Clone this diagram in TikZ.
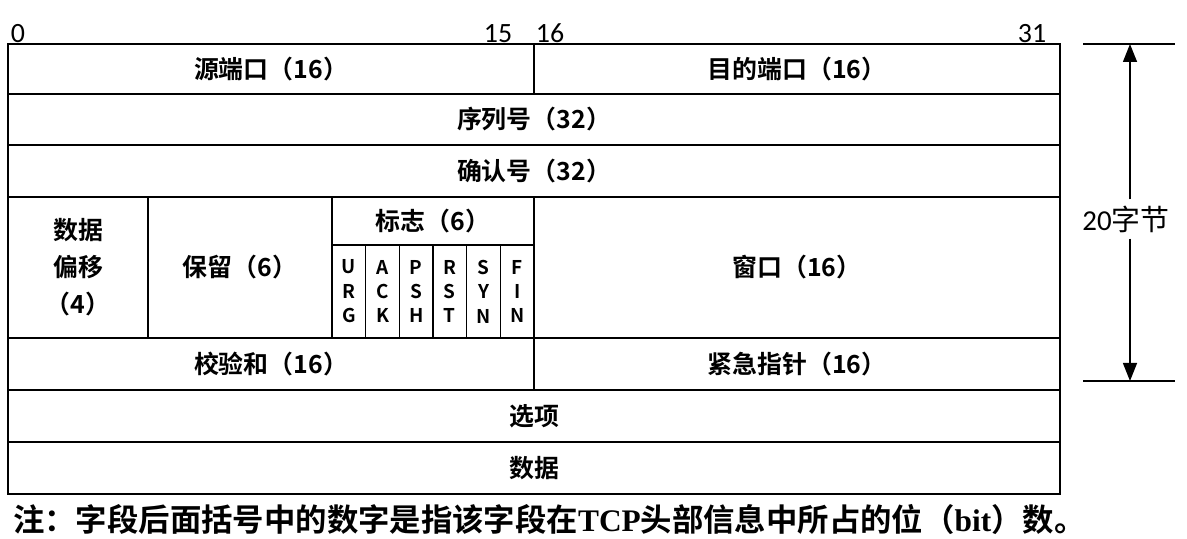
\documentclass[tikz,border=0pt]{standalone}
\usepackage{fontspec}
\setmainfont{Noto Sans CJK SC}[BoldFont={Noto Sans CJK SC Bold}]
\newfontfamily\numfont{Carlito}
\newfontfamily\notefont{Liberation Serif}
\usetikzlibrary{arrows.meta,fit}

\begin{document}
\begin{tikzpicture}[x=1bp,y=-1bp,
  cell/.style={draw, line width=1.4bp, inner sep=0pt},
  lbl/.style={align=center, inner sep=0pt, font=\fontsize{25}{37}\selectfont\bfseries},
  flaglbl/.style={lbl, font=\fontsize{19}{24.5}\selectfont\bfseries},
  bitno/.style={font=\numfont\fontsize{28}{28}\selectfont, anchor=base, inner sep=0pt},
  arr/.style={line width=1.4bp, -{Triangle[width=14bp,length=18bp]}}]
  \useasboundingbox (0,0) rectangle (1187,539);

  % bit numbers
  \node[bitno] (b0) at (18,43) {0};
  \node[bitno] (b15) at (498,43) {15};
  \node[bitno] (b16) at (550,43) {16};
  \node[bitno] (b31) at (1032,43) {31};

  % header fields
  \node[cell, fit={(8,44) (534,94)}] (src) {};
  \node[lbl] (src-l) at (src) {源端口（16）};
  \node[cell, fit={(534,44) (1060,94)}] (dst) {};
  \node[lbl] (dst-l) at (dst) {目的端口（16）};
  \node[cell, fit={(8,94) (1060,145)}] (seq) {};
  \node[lbl] (seq-l) at (seq) {序列号（32）};
  \node[cell, fit={(8,145) (1060,197)}] (ack) {};
  \node[lbl] (ack-l) at (ack) {确认号（32）};
  \node[cell, fit={(8,197) (148,338)}] (off) {};
  \node[lbl] (off-l) at (off) {数据\\偏移\\（4）};
  \node[cell, fit={(148,197) (332,338)}] (rsv) {};
  \node[lbl] (rsv-l) at (rsv) {保留（6）};
  \node[cell, fit={(332,197) (534,245)}] (flg) {};
  \node[lbl] (flg-l) at (flg) {标志（6）};
  \foreach \f/\t [count=\i from 0] in {urg/{U\\R\\G}, ackf/{A\\C\\K}, psh/{P\\S\\H},
      rst/{R\\S\\T}, syn/{S\\Y\\N}, fin/{F\\I\\N}} {
    \node[cell, fit={(332+\i*33.67,245) (365.67+\i*33.67,338)}] (\f) {};
    \node[flaglbl] (\f-l) at (\f) {\t};
  }
  \node[cell, fit={(534,197) (1060,338)}] (win) {};
  \node[lbl] (win-l) at (win) {窗口（16）};
  \node[cell, fit={(8,338) (534,390)}] (chk) {};
  \node[lbl] (chk-l) at (chk) {校验和（16）};
  \node[cell, fit={(534,338) (1060,390)}] (uptr) {};
  \node[lbl] (uptr-l) at (uptr) {紧急指针（16）};
  \node[cell, fit={(8,390) (1060,442)}] (opt) {};
  \node[lbl] (opt-l) at (opt) {选项};
  \node[cell, fit={(8,442) (1060,494)}] (dat) {};
  \node[lbl] (dat-l) at (dat) {数据};

  % 20 byte marker
  \coordinate (ttip) at (1130,44);
  \coordinate (btip) at (1130,381);
  \draw[line width=1.4bp] (1083,44) -- (1175,44);
  \draw[line width=1.4bp] (1083,381) -- (1175,381);
  \node[font=\fontsize{29}{29}\selectfont, inner sep=6bp] (len) at (1126,219)
    {{\numfont 20}字节};
  \draw[arr] (len.north -| ttip) -- (ttip);
  \draw[arr] (len.south -| btip) -- (btip);

  % note
  \node[anchor=west, inner sep=0pt, font=\fontsize{31.5}{32}\selectfont\bfseries] (note) at (13,520)
    {注：字段后面括号中的数字是指该字段在{\notefont\bfseries TCP}头部信息中所占的位（{\notefont\bfseries bit}）数。};
\end{tikzpicture}
\end{document}
